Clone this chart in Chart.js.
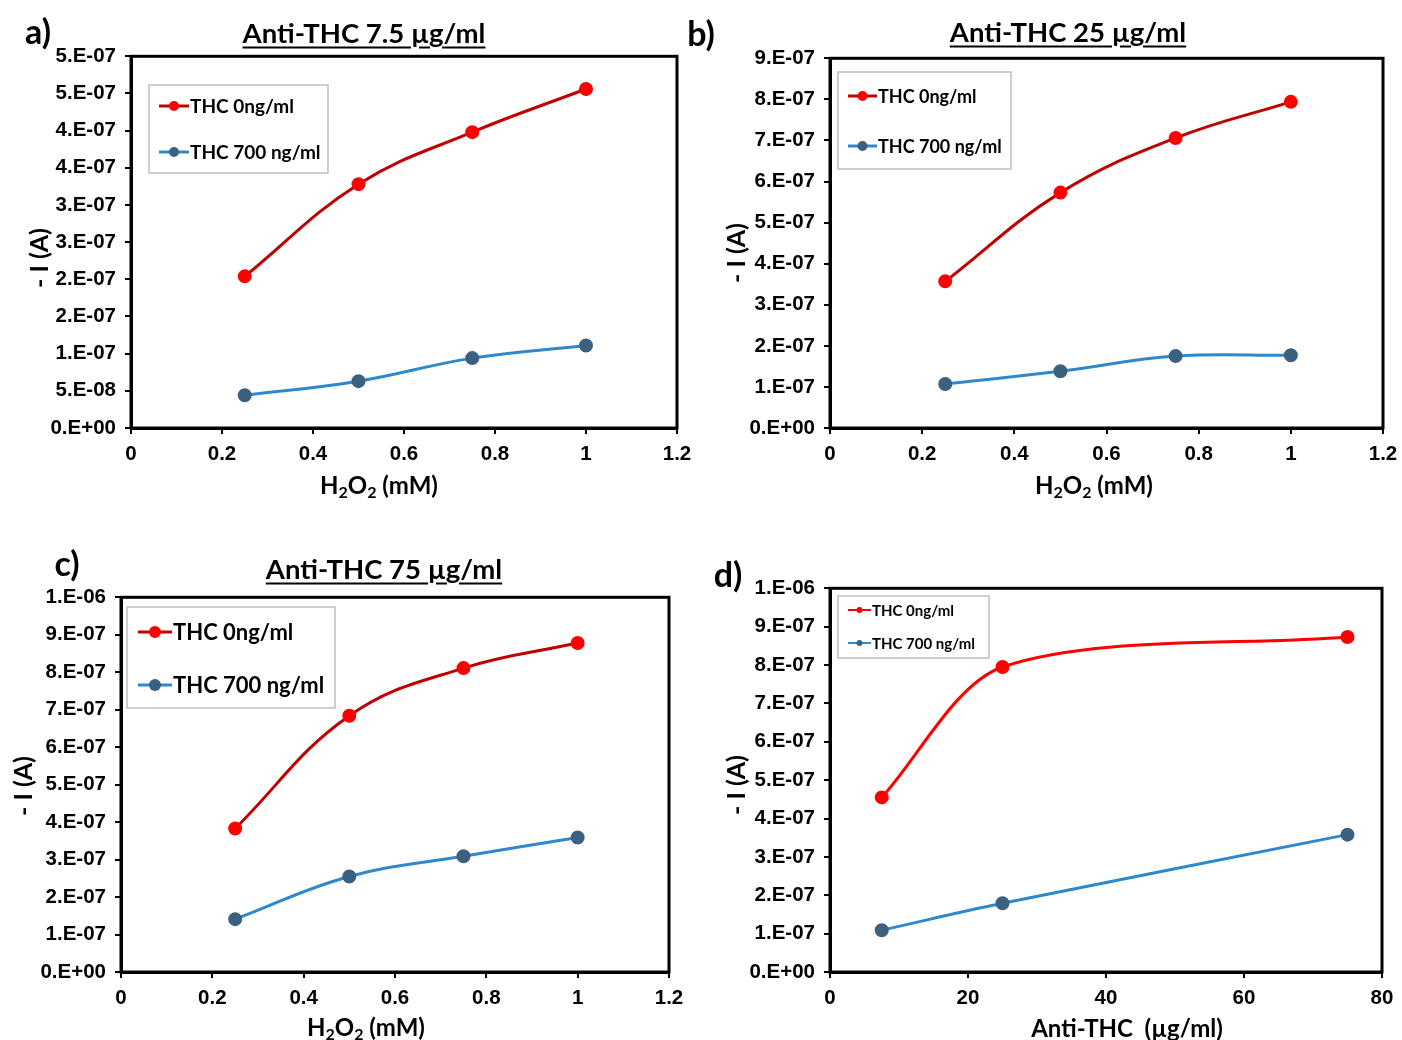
<!DOCTYPE html>
<html>
<head>
<meta charset="utf-8">
<script src="https://cdn.jsdelivr.net/npm/chart.js@4.4.0/dist/chart.umd.min.js"></script>
<style>
  body { margin: 0; background: #fff; width: 1402px; height: 1040px; position: relative; overflow: hidden; }
  canvas { position: absolute; }
  .txt { position: absolute; transform: translate(-50%, -50%); white-space: nowrap; color: #000; font-weight: bold; }
  .letter { font-family: Lato, "Open Sans", sans-serif; font-size: 34px; }
  .title { font-family: Lato, "Open Sans", sans-serif; font-size: 27.5px; text-decoration: underline; text-underline-offset: 4px; }
  .ytitle { font-family: Lato, "Open Sans", sans-serif; font-size: 25px; transform: translate(-50%, -50%) rotate(-90deg); }
  .xtitle { font-family: Lato, "Open Sans", sans-serif; font-size: 24px; }
  .xtitle sub { font-size: 16px; vertical-align: -4px; }
</style>
</head>
<body>
<canvas id="chartA"></canvas>
<canvas id="chartB"></canvas>
<canvas id="chartC"></canvas>
<canvas id="chartD"></canvas>

<div class="txt letter" style="left:38px;top:30px;">a)</div>
<div class="txt letter" style="left:701px;top:32px;">b)</div>
<div class="txt letter" style="left:67px;top:562px;">c)</div>
<div class="txt letter" style="left:728px;top:573px;">d)</div>

<div class="txt title" style="left:364px;top:32px;">Anti-THC 7.5 µg/ml</div>
<div class="txt title" style="left:1068px;top:31px;">Anti-THC 25 µg/ml</div>
<div class="txt title" style="left:384px;top:568px;">Anti-THC 75 µg/ml</div>

<div class="txt ytitle" style="left:38px;top:258px;">- I (A)</div>
<div class="txt ytitle" style="left:735px;top:253px;">- I (A)</div>
<div class="txt ytitle" style="left:22px;top:786px;">- I (A)</div>
<div class="txt ytitle" style="left:735px;top:785px;">- I (A)</div>

<div class="txt xtitle" style="left:379px;top:485px;">H<sub>2</sub>O<sub>2</sub> (mM)</div>
<div class="txt xtitle" style="left:1094px;top:485px;">H<sub>2</sub>O<sub>2</sub> (mM)</div>
<div class="txt xtitle" style="left:366px;top:1027px;">H<sub>2</sub>O<sub>2</sub> (mM)</div>
<div class="txt xtitle" style="left:1127px;top:1027px;">Anti-THC&nbsp; (µg/ml)</div>

<script>
// data
const h2o2 = [0.25, 0.5, 0.75, 1];
const antiTHC = [7.5, 25, 75];
const labels = ['THC 0ng/ml', 'THC 700 ng/ml'];

const aRed = [2.04e-7, 3.28e-7, 3.98e-7, 4.56e-7];
const aBlue = [0.44e-7, 0.63e-7, 0.94e-7, 1.11e-7];
const bRed = [3.57e-7, 5.73e-7, 7.06e-7, 7.94e-7];
const bBlue = [1.07e-7, 1.38e-7, 1.75e-7, 1.77e-7];
const cRed = [3.83e-7, 6.84e-7, 8.11e-7, 8.78e-7];
const cBlue = [1.41e-7, 2.55e-7, 3.09e-7, 3.59e-7];
const dRed = [4.55e-7, 7.95e-7, 8.73e-7];
const dBlue = [1.09e-7, 1.79e-7, 3.58e-7];

// tick values and labels (Excel 0.E+00 format)
const yTicksA = [0, 5e-8, 1e-7, 1.5e-7, 2e-7, 2.5e-7, 3e-7, 3.5e-7, 4e-7, 4.5e-7, 5e-7];
const yLabelsA = ['0.E+00', '5.E-08', '1.E-07', '2.E-07', '2.E-07', '3.E-07', '3.E-07', '4.E-07', '4.E-07', '5.E-07', '5.E-07'];
const yTicksB = [0, 1e-7, 2e-7, 3e-7, 4e-7, 5e-7, 6e-7, 7e-7, 8e-7, 9e-7];
const yLabelsB = ['0.E+00', '1.E-07', '2.E-07', '3.E-07', '4.E-07', '5.E-07', '6.E-07', '7.E-07', '8.E-07', '9.E-07'];
const yTicksC = [0, 1e-7, 2e-7, 3e-7, 4e-7, 5e-7, 6e-7, 7e-7, 8e-7, 9e-7, 1e-6];
const yLabelsC = ['0.E+00', '1.E-07', '2.E-07', '3.E-07', '4.E-07', '5.E-07', '6.E-07', '7.E-07', '8.E-07', '9.E-07', '1.E-06'];
const xTicksH = [0, 0.2, 0.4, 0.6, 0.8, 1, 1.2];
const xLabelsH = ['0', '0.2', '0.4', '0.6', '0.8', '1', '1.2'];
const xTicksD = [0, 20, 40, 60, 80];
const xLabelsD = ['0', '20', '40', '60', '80'];

const LEFT = 130, TOP = 20, RIGHT = 25, BOTTOM = 45;

// legend box drawn inside the plot, Excel style
const boxLegend = {
  id: 'boxLegend',
  afterDraw(chart, args, opts) {
    const c = chart.ctx;
    const r = chart.canvas.getBoundingClientRect();
    const x0 = opts.x - r.left, y0 = opts.y - r.top;
    c.save();
    c.fillStyle = '#fff';
    c.fillRect(x0, y0, opts.w, opts.h);
    c.strokeStyle = '#bfbfbf';
    c.lineWidth = 1.5;
    c.strokeRect(x0, y0, opts.w, opts.h);
    chart.data.datasets.forEach((ds, i) => {
      const y = y0 + opts.rows[i];
      c.strokeStyle = ds.borderColor;
      c.lineWidth = opts.lw;
      c.beginPath();
      c.moveTo(x0 + opts.lx, y);
      c.lineTo(x0 + opts.lx + opts.ll, y);
      c.stroke();
      c.fillStyle = ds.pointBackgroundColor;
      c.beginPath();
      c.arc(x0 + opts.lx + opts.ll / 2, y, opts.r, 0, Math.PI * 2);
      c.fill();
      c.fillStyle = '#000';
      c.font = 'bold ' + opts.size + 'px Lato, "Open Sans", sans-serif';
      c.textBaseline = 'middle';
      c.fillText(ds.label, x0 + opts.lx + opts.ll + 1, y + 1);
    });
    c.restore();
  }
};

const frame = {
  id: 'frame',
  afterDatasetsDraw(chart) {
    const a = chart.chartArea, c = chart.ctx;
    c.save();
    c.strokeStyle = '#000';
    c.lineWidth = 3;
    c.strokeRect(a.left, a.top, a.right - a.left, a.bottom - a.top);
    c.restore();
  }
};

function makeChart(id, plot, xs, red, blue, redLine, tension, xT, xL, xMax, yT, yL, yMax, leg, ms) {
  const cv = document.getElementById(id);
  const w = plot.r - plot.l + LEFT + RIGHT;
  const h = plot.b - plot.t + TOP + BOTTOM;
  cv.style.left = (plot.l - LEFT) + 'px';
  cv.style.top = (plot.t - TOP) + 'px';
  cv.width = w; cv.height = h;
  cv.style.width = w + 'px'; cv.style.height = h + 'px';
  const tickFont = { family: '"Liberation Sans", Arial, sans-serif', weight: 'bold', size: 20.5 };
  return new Chart(cv, {
    type: 'line',
    data: {
      datasets: [
        { label: labels[0], data: xs.map((x, i) => ({ x: x, y: red[i] })),
          borderColor: redLine, pointBackgroundColor: '#ff0000', pointBorderColor: '#ff0000',
          borderWidth: 3, pointRadius: ms, tension: tension },
        { label: labels[1], data: xs.map((x, i) => ({ x: x, y: blue[i] })),
          borderColor: '#2f88cc', pointBackgroundColor: '#3c6180', pointBorderColor: '#3c6180',
          borderWidth: 3, pointRadius: ms, tension: 0.4 }
      ]
    },
    options: {
      responsive: false,
      animation: false,
      layout: { padding: { top: TOP, right: RIGHT, left: 0, bottom: 0 } },
      plugins: { legend: { display: false }, tooltip: { enabled: false }, boxLegend: leg },
      scales: {
        x: {
          type: 'linear', min: 0, max: xMax,
          afterFit: s => { s.height = BOTTOM; },
          afterBuildTicks: s => { s.ticks = xT.map(v => ({ value: v })); },
          ticks: { color: '#000', font: tickFont, padding: 8, maxRotation: 0, autoSkip: false,
                   callback: (v, i) => xL[i] },
          grid: { drawOnChartArea: false, drawTicks: true, tickLength: 6, color: '#000', lineWidth: 2 },
          border: { color: '#000', width: 3 }
        },
        y: {
          min: 0, max: yMax,
          afterFit: s => { s.width = LEFT; },
          afterBuildTicks: s => { s.ticks = yT.map(v => ({ value: v })); },
          ticks: { color: '#000', font: tickFont, padding: 9, autoSkip: false,
                   callback: (v, i) => yL[i] },
          grid: { drawOnChartArea: false, drawTicks: true, tickLength: 6, color: '#000', lineWidth: 2 },
          border: { color: '#000', width: 3 }
        }
      }
    },
    plugins: [frame, boxLegend]
  });
}

makeChart('chartA', { l: 131, r: 677, t: 55, b: 428 }, h2o2, aRed, aBlue, '#c00000', 0.4,
  xTicksH, xLabelsH, 1.2, yTicksA, yLabelsA, 5e-7,
  { x: 149, y: 85, w: 179, h: 88, rows: [21, 67], lx: 10, ll: 30, lw: 3, r: 5, size: 19 }, 5.5);
makeChart('chartB', { l: 830, r: 1383, t: 57, b: 428 }, h2o2, bRed, bBlue, '#c00000', 0.4,
  xTicksH, xLabelsH, 1.2, yTicksB, yLabelsB, 9e-7,
  { x: 838, y: 72, w: 173, h: 97, rows: [24, 74], lx: 10, ll: 29, lw: 3, r: 5, size: 18 }, 5.5);
makeChart('chartC', { l: 121, r: 669, t: 596, b: 972 }, h2o2, cRed, cBlue, '#c00000', 0.4,
  xTicksH, xLabelsH, 1.2, yTicksC, yLabelsC, 1e-6,
  { x: 127, y: 607, w: 208, h: 101, rows: [25, 78], lx: 11, ll: 34, lw: 3, r: 6, size: 22 }, 5.5);
makeChart('chartD', { l: 830, r: 1382, t: 587, b: 972 }, antiTHC, dRed, dBlue, '#ff0000', 0.3,
  xTicksD, xLabelsD, 80, yTicksC, yLabelsC, 1e-6,
  { x: 838, y: 596, w: 151, h: 62, rows: [14, 47], lx: 10, ll: 23, lw: 2, r: 3, size: 15 }, 5.5);
</script>
</body>
</html>
